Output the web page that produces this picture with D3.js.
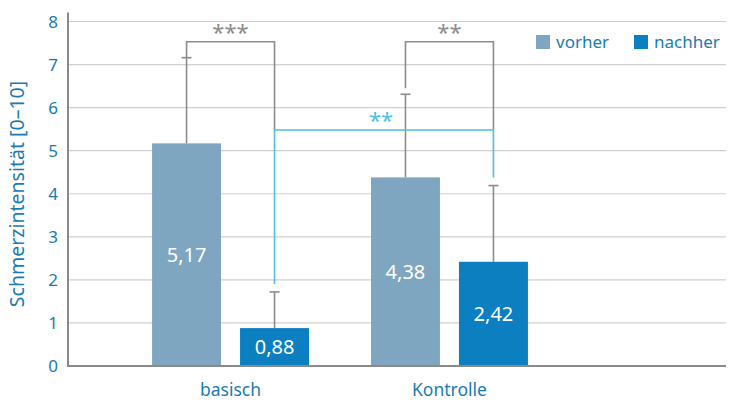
<!DOCTYPE html>
<html>
<head>
<meta charset="utf-8">
<script src="https://cdn.jsdelivr.net/npm/d3@7"></script>
<style>
  body { margin: 0; background: #fff; }
  svg text { font-family: "Noto Sans", "Open Sans", sans-serif; }
</style>
</head>
<body>
<div id="chart"></div>
<script>
var categories = ["basisch", "Kontrolle"];
var seriesNames = ["vorher", "nachher"];
var vorher = [5.17, 4.38];
var nachher = [0.88, 2.42];
var vorherErr = [7.16, 6.31];   // top of error whisker
var nachherErr = [1.72, 4.19];
var yTicks = [0, 1, 2, 3, 4, 5, 6, 7, 8];
var valueLabels = { vorher: ["5,17", "4,38"], nachher: ["0,88", "2,42"] };

var width = 737, height = 407;
var x0 = 68, x1 = 726, yTop = 21.5, yBottom = 366;

var colors = { vorher: "#7fa6c0", nachher: "#0b7fc0" };
var textBlue = "#1a7bb2";
var grey = "#8c8c8c";
var sigBlue = "#4dbfe3";

var svg = d3.select("#chart").append("svg")
    .attr("width", width)
    .attr("height", height);

var y = d3.scaleLinear().domain([0, 8]).range([yBottom, yTop]);

var x = d3.scaleBand().domain(categories)
    .range([x0, 612])
    .paddingInner(0.283)
    .paddingOuter(0.384);

var xs = d3.scaleBand().domain(seriesNames)
    .range([0, x.bandwidth()])
    .paddingInner(0.216);

// grid
svg.append("g").selectAll("line")
    .data(yTicks.filter(function(d) { return d > 0; }))
    .enter().append("line")
    .attr("x1", x0).attr("x2", x1)
    .attr("y1", function(d) { return y(d); })
    .attr("y2", function(d) { return y(d); })
    .style("stroke", "#cfcfcf")
    .style("stroke-width", 1.2);

// y tick labels
svg.append("g").selectAll("text")
    .data(yTicks)
    .enter().append("text")
    .attr("x", 58)
    .attr("y", function(d) { return y(d) + 6; })
    .attr("text-anchor", "end")
    .style("fill", textBlue)
    .style("font-size", "17px")
    .text(function(d) { return d; });

svg.append("text")
    .attr("transform", "translate(24,194) rotate(-90)")
    .attr("text-anchor", "middle")
    .style("fill", textBlue)
    .style("font-size", "19.5px")
    .text("Schmerzintensität [0–10]");

// rows for bars
var rows = [];
categories.forEach(function(c, i) {
    rows.push({ cat: c, s: "vorher", v: vorher[i], err: vorherErr[i], label: valueLabels.vorher[i] });
    rows.push({ cat: c, s: "nachher", v: nachher[i], err: nachherErr[i], label: valueLabels.nachher[i] });
});
function cx(d) { return x(d.cat) + xs(d.s) + xs.bandwidth() / 2; }

// error bars (upper only)
svg.append("g").selectAll("line")
    .data(rows)
    .enter().append("line")
    .attr("x1", cx).attr("x2", cx)
    .attr("y1", function(d) { return y(d.v); })
    .attr("y2", function(d) { return y(d.err); })
    .style("stroke", grey).style("stroke-width", 1.6);

svg.append("g").selectAll("line")
    .data(rows)
    .enter().append("line")
    .attr("x1", function(d) { return cx(d) - 5; })
    .attr("x2", function(d) { return cx(d) + 5; })
    .attr("y1", function(d) { return y(d.err); })
    .attr("y2", function(d) { return y(d.err); })
    .style("stroke", grey).style("stroke-width", 1.6);

// bars
svg.append("g").selectAll("rect")
    .data(rows)
    .enter().append("rect")
    .attr("x", function(d) { return x(d.cat) + xs(d.s); })
    .attr("width", xs.bandwidth())
    .attr("y", function(d) { return y(d.v); })
    .attr("height", function(d) { return y(0) - y(d.v); })
    .style("fill", function(d) { return colors[d.s]; });

svg.append("g").selectAll("text")
    .data(rows)
    .enter().append("text")
    .attr("x", cx)
    .attr("y", function(d) { return (y(d.v) + y(0)) / 2 + 7; })
    .attr("text-anchor", "middle")
    .style("fill", "#fff")
    .style("font-size", "20px")
    .text(function(d) { return d.label; });

// axes lines
svg.append("line")
    .attr("x1", x0).attr("x2", x0)
    .attr("y1", yTop - 9).attr("y2", yBottom)
    .style("stroke", "#8a8a8a").style("stroke-width", 2);
svg.append("line")
    .attr("x1", x0 - 1).attr("x2", x1)
    .attr("y1", yBottom).attr("y2", yBottom)
    .style("stroke", "#8a8a8a").style("stroke-width", 2);

// category labels
svg.append("g").selectAll("text")
    .data(categories)
    .enter().append("text")
    .attr("x", function(d) { return x(d) + x.bandwidth() / 2; })
    .attr("y", 396)
    .attr("text-anchor", "middle")
    .style("fill", textBlue)
    .style("font-size", "17.5px")
    .text(function(d) { return d; });

// significance brackets
var bx = function(c, s) { return x(c) + xs(s) + xs.bandwidth() / 2; };
var bracketTop = y(7.53);
var bracketMid = y(5.48);

svg.append("path")
    .attr("d", "M" + bx("basisch", "vorher") + "," + y(vorherErr[0]) +
               "V" + bracketTop + "H" + bx("basisch", "nachher") + "V" + bracketMid)
    .style("fill", "none").style("stroke", grey).style("stroke-width", 1.6);
svg.append("path")
    .attr("d", "M" + bx("Kontrolle", "vorher") + "," + (y(vorherErr[1]) - 6) +
               "V" + bracketTop + "H" + bx("Kontrolle", "nachher") + "V" + bracketMid)
    .style("fill", "none").style("stroke", grey).style("stroke-width", 1.6);
svg.append("path")
    .attr("d", "M" + bx("basisch", "nachher") + "," + (y(nachherErr[0]) - 8) +
               "V" + bracketMid + "H" + bx("Kontrolle", "nachher") + "V" + (y(nachherErr[1]) - 8))
    .style("fill", "none").style("stroke", sigBlue).style("stroke-width", 1.6);

svg.append("text")
    .attr("x", (bx("basisch", "vorher") + bx("basisch", "nachher")) / 2)
    .attr("y", 40)
    .attr("text-anchor", "middle")
    .style("fill", grey).style("font-size", "22px")
    .text("***");
svg.append("text")
    .attr("x", (bx("Kontrolle", "vorher") + bx("Kontrolle", "nachher")) / 2)
    .attr("y", 40)
    .attr("text-anchor", "middle")
    .style("fill", grey).style("font-size", "22px")
    .text("**");
svg.append("text")
    .attr("x", 381)
    .attr("y", 128)
    .attr("text-anchor", "middle")
    .style("fill", sigBlue).style("font-size", "22px")
    .text("**");

// legend
var legend = svg.append("g").selectAll("g")
    .data(seriesNames)
    .enter().append("g")
    .attr("transform", function(d, i) { return "translate(" + [536, 634][i] + ",35)"; });
legend.append("rect")
    .attr("width", 14).attr("height", 14)
    .style("fill", function(d) { return colors[d]; });
legend.append("text")
    .attr("x", 20).attr("y", 13)
    .style("fill", textBlue)
    .style("font-size", "17px")
    .text(function(d) { return d; });
</script>
</body>
</html>
